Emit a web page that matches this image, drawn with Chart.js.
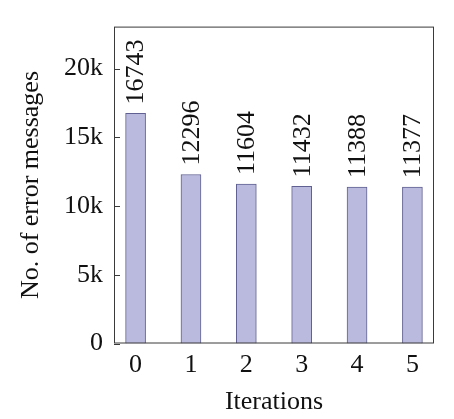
<!DOCTYPE html>
<html>
<head>
<meta charset="utf-8">
<script src="https://cdn.jsdelivr.net/npm/chart.js@4/dist/chart.umd.min.js"></script>
<style>
  html, body { margin: 0; padding: 0; background: #fff; }
  #wrap { width: 454px; height: 419px; }
</style>
</head>
<body>
<div id="wrap"><canvas id="barChart" width="454" height="419"></canvas></div>
<script>
const iterations = [0, 1, 2, 3, 4, 5];
const errorCounts = [16743, 12296, 11604, 11432, 11388, 11377];
const yTicks = [0, 5000, 10000, 15000, 20000];

const serif = "'Liberation Serif', 'DejaVu Serif', serif";

// pgfplots-like frame, inward y ticks, rotated value labels
const framePlugin = {
  id: "frame",
  afterDatasetsDraw(chart) {
    const { ctx, chartArea, scales } = chart;
    ctx.save();
    ctx.strokeStyle = "#3a3a3a";
    ctx.lineWidth = 1;
    ctx.beginPath();
    yTicks.forEach(v => {
      const y = Math.round(scales.y.getPixelForValue(v)) + 0.5;
      ctx.moveTo(chartArea.left, y);
      ctx.lineTo(chartArea.left + 6, y);
    });
    ctx.stroke();
    ctx.strokeRect(chartArea.left + 0.5, chartArea.top + 0.5,
      chartArea.right - chartArea.left - 1, chartArea.bottom - chartArea.top - 1);

    ctx.fillStyle = "#111";
    ctx.font = "normal 26px " + serif;
    ctx.textAlign = "left";
    ctx.textBaseline = "middle";
    const meta = chart.getDatasetMeta(0);
    meta.data.forEach((bar, i) => {
      ctx.save();
      ctx.translate(bar.x + 1, bar.y - 9);
      ctx.rotate(-Math.PI / 2);
      ctx.fillText(String(errorCounts[i]), 0, 0);
      ctx.restore();
    });
    ctx.restore();
  }
};

new Chart(document.getElementById("barChart").getContext("2d"), {
  type: "bar",
  data: {
    datasets: [{
      data: iterations.map((x, i) => ({ x: x, y: errorCounts[i] })),
      backgroundColor: "rgb(186,186,222)",
      borderColor: "rgb(96,96,146)",
      borderWidth: 1,
      barThickness: 20
    }]
  },
  options: {
    responsive: false,
    animation: false,
    layout: { padding: { left: 0, right: 20, top: 0, bottom: 0 } },
    plugins: { legend: { display: false }, tooltip: { enabled: false } },
    scales: {
      x: {
        type: "linear",
        offset: false,
        min: -0.39,
        max: 5.39,
        afterBuildTicks: s => { s.ticks = iterations.map(v => ({ value: v })); },
        afterFit: s => { s.height = 75.5; },
        grid: { display: false, drawTicks: false },
        border: { display: false },
        ticks: { color: "#111", font: { family: serif, size: 26 }, padding: 6 },
        title: {
          display: true, text: "Iterations", color: "#111",
          font: { family: serif, size: 26 }, padding: { top: 0, bottom: 1 }
        }
      },
      y: {
        min: 0,
        max: 23060,
        afterBuildTicks: s => { s.ticks = yTicks.map(v => ({ value: v })); },
        afterFit: s => { s.width = 114; },
        grid: { display: false, drawTicks: false },
        border: { display: false },
        ticks: {
          color: "#111", font: { family: serif, size: 26 }, padding: 11,
          callback: v => v === 0 ? "0" : (v / 1000) + "k"
        },
        title: {
          display: true, text: "No. of error messages", color: "#111",
          font: { family: serif, size: 26 }, padding: { top: 16, bottom: 0 }
        }
      }
    }
  },
  plugins: [framePlugin]
});
</script>
</body>
</html>
